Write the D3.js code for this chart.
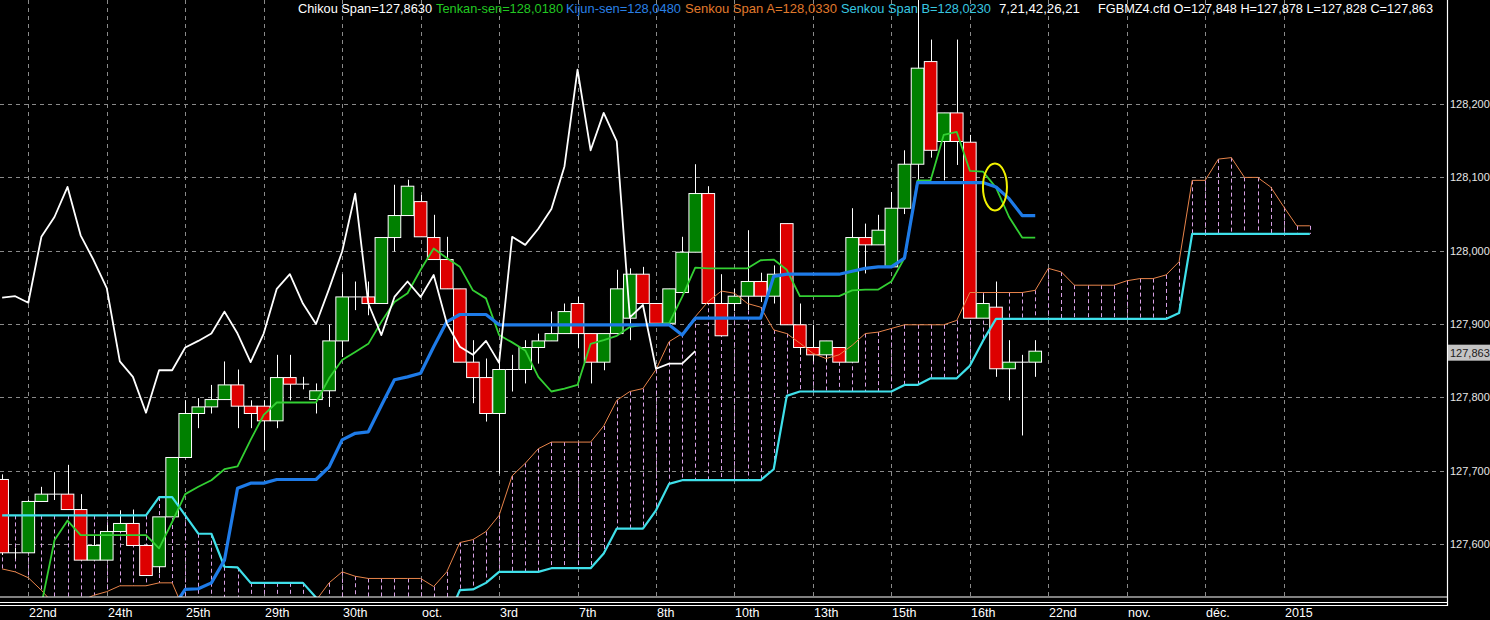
<!DOCTYPE html>
<html><head><meta charset="utf-8">
<script src="https://cdn.jsdelivr.net/npm/d3@7"></script>
<style>html,body{margin:0;padding:0;background:#000;overflow:hidden}svg{display:block}</style>
</head><body><svg id="chart" width="1490" height="620"></svg>
<script>
// ---------- DATA (bar index 0..79 candles; cloud to 100) ----------
const openVals  = [127.688,127.588,127.588,127.658,127.668,127.668,127.647,127.578,127.578,127.617,
                   127.628,127.598,127.569,127.637,127.718,127.778,127.787,127.797,127.817,127.788,
                   127.788,127.768,127.827,127.818,127.797,127.809,127.877,127.937,127.937,127.928,
                   128.018,128.048,128.067,128.018,127.988,127.948,127.848,127.827,127.778,127.838,
                   127.838,127.868,127.877,127.887,127.928,127.887,127.848,127.887,127.908,127.968,
                   127.928,127.901,127.943,127.998,128.078,127.928,127.928,127.938,127.958,127.938,
                   128.037,127.899,127.868,127.858,127.868,127.848,128.018,128.008,127.978,128.058,
                   128.118,128.258,128.149,128.188,128.148,127.908,127.923,127.839,127.848,127.848];
const highVals  = [127.695,127.595,127.660,127.678,127.698,127.708,127.668,127.611,127.626,127.646,
                   127.647,127.598,127.637,127.718,127.796,127.799,127.817,127.849,127.838,127.796,
                   127.796,127.858,127.858,127.828,127.819,127.899,127.968,127.958,127.958,128.018,
                   128.090,128.097,128.076,128.049,128.019,127.948,127.878,127.853,127.849,127.858,
                   127.878,127.887,127.917,127.928,127.937,127.887,127.887,127.974,127.976,127.978,
                   127.928,127.948,128.019,128.118,128.088,127.968,127.948,128.028,127.970,127.980,
                   128.037,127.928,127.899,127.877,127.868,128.058,128.037,128.049,128.080,128.137,
                   128.360,128.288,128.188,128.288,128.158,127.940,127.958,127.878,127.858,127.878];
const lowVals   = [127.585,127.580,127.588,127.658,127.660,127.647,127.578,127.578,127.578,127.617,
                   127.598,127.557,127.560,127.637,127.718,127.758,127.778,127.797,127.758,127.758,
                   127.728,127.758,127.796,127.811,127.778,127.787,127.855,127.919,127.912,127.928,
                   127.999,128.048,128.019,127.988,127.948,127.848,127.792,127.767,127.696,127.808,
                   127.819,127.846,127.877,127.887,127.867,127.819,127.837,127.887,127.878,127.928,
                   127.901,127.901,127.943,127.998,127.928,127.884,127.918,127.919,127.930,127.928,
                   127.899,127.858,127.849,127.849,127.848,127.848,127.969,128.008,127.978,128.050,
                   128.096,128.127,128.096,128.117,127.908,127.908,127.828,127.796,127.748,127.828];
const closeVals = [127.588,127.588,127.658,127.668,127.668,127.647,127.578,127.598,127.617,127.628,
                   127.598,127.557,127.637,127.718,127.778,127.787,127.797,127.817,127.788,127.778,
                   127.768,127.827,127.818,127.818,127.809,127.877,127.937,127.937,127.928,128.018,
                   128.048,128.088,128.019,127.988,127.948,127.848,127.827,127.778,127.838,127.838,
                   127.868,127.877,127.887,127.917,127.887,127.848,127.887,127.948,127.968,127.928,
                   127.901,127.948,127.998,128.078,127.928,127.884,127.938,127.958,127.938,127.968,
                   127.899,127.868,127.858,127.877,127.848,128.018,128.008,128.028,128.058,128.118,
                   128.249,128.137,128.188,128.149,127.908,127.928,127.839,127.848,127.848,127.863];
const tenkanVals = [null,null,null,127.517,127.605,127.632,127.612,127.612,127.612,127.612,
                   127.612,127.612,127.594,127.630,127.668,127.678,127.687,127.702,127.706,127.742,
                   127.776,127.793,127.793,127.793,127.793,127.826,127.851,127.862,127.873,127.903,
                   127.930,127.942,127.974,128.003,127.990,127.978,127.946,127.935,127.885,127.875,
                   127.864,127.828,127.808,127.812,127.817,127.873,127.878,127.884,127.896,127.899,
                   127.900,127.901,127.937,127.977,127.976,127.976,127.976,127.976,127.987,127.988,
                   127.974,127.938,127.938,127.938,127.938,127.946,127.947,127.947,127.958,127.990,
                   128.096,128.096,128.158,128.162,128.109,128.108,128.086,128.046,128.018,128.018];
const kijunVals  = [null,null,null,null,null,null,null,null,null,null,
                   null,null,null,127.512,127.538,127.539,127.547,127.578,127.676,127.683,
                   127.683,127.688,127.688,127.688,127.688,127.705,127.742,127.751,127.753,127.789,
                   127.824,127.828,127.833,127.869,127.903,127.913,127.913,127.913,127.899,127.899,
                   127.899,127.899,127.899,127.899,127.899,127.899,127.899,127.899,127.899,127.899,
                   127.899,127.899,127.885,127.908,127.908,127.908,127.908,127.908,127.908,127.965,
                   127.968,127.968,127.968,127.968,127.968,127.972,127.976,127.978,127.978,127.990,
                   128.093,128.093,128.093,128.093,128.093,128.093,128.087,128.071,128.048,128.048];
const chikouVals = [127.936,127.938,127.929,128.019,128.046,128.087,128.021,127.987,127.949,127.849,
                   127.828,127.779,127.837,127.837,127.868,127.877,127.887,127.917,127.887,127.848,
                   127.887,127.948,127.968,127.928,127.900,127.948,127.999,128.078,127.928,127.885,
                   127.937,127.958,127.937,127.967,127.901,127.869,127.858,127.877,127.847,128.019,
                   128.008,128.030,128.057,128.115,128.247,128.137,128.188,128.149,127.909,127.926,
                   127.839,127.846,127.846,127.863];
const senkouAVals = [127.566,127.562,127.554,127.537,127.517,127.515,127.522,127.530,127.535,127.543,
                   127.543,127.543,127.547,127.547,127.506,127.505,127.505,127.505,127.505,127.505,
                   127.505,127.505,127.505,127.510,127.523,127.547,127.562,127.556,127.553,127.553,
                   127.553,127.553,127.553,127.542,127.562,127.602,127.606,127.617,127.639,127.693,
                   127.710,127.730,127.739,127.739,127.739,127.739,127.761,127.796,127.808,127.812,
                   127.838,127.876,127.887,127.910,127.931,127.945,127.942,127.928,127.923,127.892,
                   127.887,127.874,127.860,127.853,127.858,127.871,127.887,127.889,127.894,127.899,
                   127.899,127.899,127.899,127.905,127.943,127.943,127.943,127.943,127.943,127.946,
                   127.976,127.971,127.953,127.953,127.953,127.953,127.959,127.962,127.962,127.967,
                   127.985,128.096,128.096,128.125,128.127,128.100,128.100,128.087,128.060,128.034,128.034];
const senkouBVals = [127.639,127.639,127.639,127.639,127.639,127.639,127.639,127.639,127.639,127.639,
                   127.639,127.639,127.664,127.664,127.639,127.614,127.614,127.569,127.568,127.547,
                   127.547,127.547,127.547,127.547,127.527,127.505,127.505,127.505,127.505,127.505,
                   127.505,127.505,127.505,127.505,127.496,127.537,127.538,127.547,127.562,127.562,
                   127.562,127.562,127.567,127.567,127.567,127.567,127.587,127.621,127.621,127.621,
                   127.646,127.682,127.687,127.687,127.687,127.687,127.687,127.687,127.687,127.702,
                   127.802,127.808,127.808,127.808,127.808,127.808,127.808,127.808,127.808,127.817,
                   127.817,127.826,127.826,127.826,127.843,127.877,127.907,127.907,127.907,127.907,
                   127.907,127.907,127.907,127.907,127.907,127.907,127.907,127.907,127.907,127.907,
                   127.915,128.023,128.023,128.023,128.023,128.023,128.023,128.023,128.023,128.023,128.023];
const dateLabels = ["22nd","24th","25th","29th","30th","oct.","3rd","7th","8th","10th","13th","15th","16th","22nd","nov.","déc.","2015"];
const dateLabelBars = [2,8,14,20,26,32,38,44,50,56,62,68,74,80,86,92,98];
const priceTicks = [127.6,127.7,127.8,127.9,128.0,128.1,128.2];
const lastPrice = 127.863;
const headerItems = [
  {text:"Chikou Span=127,8630", color:"#ffffff"},
  {text:"Tenkan-sen=128,0180", color:"#22c822"},
  {text:"Kijun-sen=128,0480", color:"#2a80e6"},
  {text:"Senkou Span A=128,0330", color:"#e07a2c"},
  {text:"Senkou Span B=128,0230", color:"#38c8e0"},
  {text:"7,21,42,26,21", color:"#ffffff"},
  {text:"FGBMZ4.cfd O=127,848 H=127,878 L=127,828 C=127,863", color:"#ffffff"}
];
const headerX = [298,436,566,685,841,999,1098];
const headerW = [134,127,115,152,150,81,335];
const note = {bar:75.92, price:128.087, rx:12, ry:23.5};

// ---------- DRAW ----------
const FONT = "'Liberation Sans', Arial, sans-serif";
const plotR = 1447, plotB = 597;
const svg = d3.select("#chart");
svg.append("rect").attr("width",1490).attr("height",620).attr("fill","#000");

const x = d3.scaleLinear().domain([0,100]).range([2.15, 1309.85]);
const y = d3.scaleLinear().domain([127.6,128.2]).range([544,104.1]);

svg.append("defs").append("clipPath").attr("id","plotclip")
  .append("rect").attr("x",0).attr("y",0).attr("width",plotR).attr("height",plotB);
const g = svg.append("g").attr("clip-path","url(#plotclip)");

// grid
g.selectAll("line.hg").data(priceTicks).join("line")
  .attr("x1",0).attr("x2",plotR)
  .attr("y1",d=>Math.round(y(d))+0.5).attr("y2",d=>Math.round(y(d))+0.5)
  .attr("stroke","#8a8a8a").attr("stroke-width",1).attr("stroke-dasharray","4,4");
g.selectAll("line.vg").data(dateLabelBars).join("line")
  .attr("y1",0).attr("y2",plotB)
  .attr("x1",d=>Math.round(x(d))+0.5).attr("x2",d=>Math.round(x(d))+0.5)
  .attr("stroke","#8a8a8a").attr("stroke-width",1).attr("stroke-dasharray","4,4");

// cloud hatch
const cloud = senkouAVals.map((a,i)=>({i,a,b:senkouBVals[i]}));
g.selectAll("line.hatch").data(cloud).join("line")
  .attr("x1",d=>Math.round(x(d.i))+0.5).attr("x2",d=>Math.round(x(d.i))+0.5)
  .attr("y1",d=>y(Math.max(d.a,d.b))).attr("y2",d=>y(Math.min(d.a,d.b)))
  .attr("stroke","#d9a2e6").attr("stroke-width",1).attr("stroke-dasharray","4,3");

// candles
const candles = openVals.map((o,i)=>({i,o,h:highVals[i],l:lowVals[i],c:closeVals[i]}));
const half = 6.3;
const cg = g.append("g");
cg.selectAll("line.wick").data(candles).join("line")
  .attr("x1",d=>Math.round(x(d.i))+0.5).attr("x2",d=>Math.round(x(d.i))+0.5)
  .attr("y1",d=>y(d.h)).attr("y2",d=>y(d.l))
  .attr("stroke","#fff").attr("stroke-width",1);
cg.selectAll("rect.body").data(candles.filter(d=>Math.abs(y(d.o)-y(d.c))>=1)).join("rect")
  .attr("x",d=>x(d.i)-half).attr("width",half*2)
  .attr("y",d=>Math.min(y(d.o),y(d.c))).attr("height",d=>Math.abs(y(d.o)-y(d.c)))
  .attr("fill",d=>d.c>=d.o?"#008000":"#dd0000")
  .attr("stroke","#fff").attr("stroke-width",1);
cg.selectAll("line.doji").data(candles.filter(d=>Math.abs(y(d.o)-y(d.c))<1)).join("line")
  .attr("x1",d=>x(d.i)-half).attr("x2",d=>x(d.i)+half)
  .attr("y1",d=>y(d.c)).attr("y2",d=>y(d.c))
  .attr("stroke","#fff").attr("stroke-width",1);

// indicator lines
function series(vals,color,width){
  const line = d3.line().defined(d=>d!=null).x((d,i)=>x(i)).y(d=>y(d));
  g.append("path").datum(vals).attr("d",line)
    .attr("fill","none").attr("stroke",color).attr("stroke-width",width)
    .attr("stroke-linejoin","round");
}
series(senkouAVals,"#e8844a",1);
series(senkouBVals,"#3fe0ea",2.2);
series(tenkanVals,"#33d033",1.8);
series(kijunVals,"#1e7be8",3.2);
series(chikouVals,"#ffffff",1.8);

// annotation ellipse
g.append("ellipse").attr("cx",x(note.bar)).attr("cy",y(note.price))
  .attr("rx",note.rx).attr("ry",note.ry)
  .attr("fill","none").attr("stroke","#f2f200").attr("stroke-width",2);

// frame
svg.append("line").attr("x1",plotR+0.5).attr("x2",plotR+0.5).attr("y1",0).attr("y2",606)
  .attr("stroke","#fff").attr("stroke-width",1.2);
[597,602.5,605.5].forEach(yy=>{
  svg.append("line").attr("x1",0).attr("x2",plotR+1).attr("y1",yy).attr("y2",yy)
    .attr("stroke","#fff").attr("stroke-width",1.2);
});

// price axis
svg.selectAll("text.py").data(priceTicks).join("text")
  .attr("x",1450).attr("y",d=>y(d)+4)
  .attr("fill","#e6e6e6").attr("font-family",FONT).attr("font-size",11)
  .text(d=>d3.format(".3f")(d).replace(".",","));
const lp = y(lastPrice)+1.5;
svg.append("rect").attr("x",1448).attr("y",lp-8).attr("width",42).attr("height",16).attr("fill","#c4c4c4");
svg.append("text").attr("x",1450).attr("y",lp+4).attr("fill","#202020")
  .attr("font-family",FONT).attr("font-size",11)
  .text(d3.format(".3f")(lastPrice).replace(".",","));

// date axis
svg.selectAll("text.dx").data(dateLabels).join("text")
  .attr("x",(d,i)=>Math.round(x(dateLabelBars[i]))+1).attr("y",617)
  .attr("fill","#ffffff").attr("font-family",FONT).attr("font-size",12.5)
  .text(d=>d);

// header
svg.selectAll("text.hd").data(headerItems).join("text")
  .attr("x",(d,i)=>headerX[i]).attr("y",13)
  .attr("fill",d=>d.color).attr("font-family",FONT).attr("font-size",13)
  .attr("textLength",(d,i)=>headerW[i]).attr("lengthAdjust","spacingAndGlyphs")
  .text(d=>d.text);
</script></body></html>
